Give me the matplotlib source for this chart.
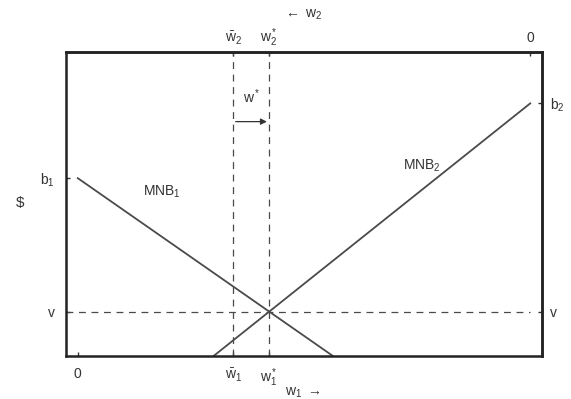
import matplotlib
matplotlib.use('Agg')
import matplotlib.pyplot as plt
import matplotlib.transforms as mtransforms

# Horizontal axis: w1 runs from 0 (left) to W_TOTAL (right), w2 the other way
W_TOTAL = 10.0
w_bar = 3.44
w_star = 4.23

# Vertical axis ($)
v_level = 1.45
b1 = 5.84
b2 = 8.30

# Marginal net benefit curves (endpoints)
mnb1_w = [0.0, 5.63]
mnb1_y = [b1, 0.0]
mnb2_w = [3.01, W_TOTAL]
mnb2_y = [0.0, b2]

# Top axis labels (w2, measured from the right)
top_ticks = [w_bar, w_star, W_TOTAL]
top_labels = [r'$\mathregular{\bar{w}_2}$', r'$\mathregular{w_2^*}$', '0']

plt.rcParams['font.family'] = ['Liberation Sans', 'DejaVu Sans']
plt.rcParams['mathtext.fontset'] = 'custom'
plt.rcParams['mathtext.rm'] = 'Liberation Sans'
plt.rcParams['mathtext.it'] = 'Liberation Sans'

line_col = '#4a4a4a'
text_col = '#333333'

fig = plt.figure(figsize=(5.71, 3.99), dpi=100)
ax = fig.add_axes([66 / 571, 1 - 355.7 / 399, 476 / 571, 304 / 399])
ax.set_xlim(-0.26, 10.26)
ax.set_ylim(0, 10)

# Curves
ax.plot(mnb1_w, mnb1_y, color=line_col, lw=1.3)
ax.plot(mnb2_w, mnb2_y, color=line_col, lw=1.3)

# Dashed guides
dash = (0, (5.5, 4.5))
ax.axvline(w_bar, color=line_col, lw=0.9, linestyle=dash)
ax.axvline(w_star, color=line_col, lw=0.9, linestyle=dash)
ax.plot([-0.26, W_TOTAL], [v_level, v_level], color=line_col, lw=0.9, linestyle=dash)

# Curve labels
ax.text(1.85, 5.4, r'MNB$_1$', fontsize=10, color=text_col, ha='center', va='center')
ax.text(7.6, 6.25, r'MNB$_2$', fontsize=10, color=text_col, ha='center', va='center')

# w* arrow
ax.annotate('', xy=(w_star - 0.05, 7.7), xytext=(w_bar + 0.05, 7.7),
            arrowprops=dict(arrowstyle='-|>', color=text_col, lw=0.9,
                            mutation_scale=9, shrinkA=0, shrinkB=0))
ax.text((w_bar + w_star) / 2, 8.2, r'w$^*$', fontsize=10, color=text_col,
        ha='center', va='bottom')

# Bottom ticks (w1)
ax.set_xticks([0, w_bar, w_star])
ax.set_xticklabels(['0', r'$\mathregular{\bar{w}_1}$', r'$\mathregular{w_1^*}$'])
# Left ticks ($)
ax.set_yticks([v_level, b1])
ax.set_yticklabels(['v', r'b$_1$'])

# Top ticks (w2, reversed)
top = ax.secondary_xaxis('top')
top.set_xticks(top_ticks)
top.set_xticklabels([])
top.tick_params(direction='in', length=3, width=1, colors=text_col)
trans = mtransforms.blended_transform_factory(ax.transData, ax.transAxes)
for xt, lab in zip(top_ticks, top_labels):
    ax.text(xt, 1.045, lab, transform=trans, fontsize=10, color=text_col,
            ha='center', va='center')

# Right ticks
right = ax.secondary_yaxis('right')
right.set_yticks([v_level, b2])
right.set_yticklabels(['v', r'b$_2$'])
right.tick_params(direction='in', length=3, width=1, colors=text_col, labelsize=10, pad=6)

ax.tick_params(direction='in', length=3, width=1, colors=text_col, labelsize=10, pad=8)
ax.tick_params(axis='y', pad=8)

for a in (ax, top, right):
    for s in a.spines.values():
        s.set_linewidth(1.8)
        s.set_color('#222222')

# Axis titles
fig.text(303 / 571, 1 - 15 / 399, r'$\leftarrow$ w$_2$', fontsize=10, color=text_col,
         ha='center', va='center')
fig.text(303 / 571, 1 - 393 / 399, r'w$_1$ $\rightarrow$', fontsize=10, color=text_col,
         ha='center', va='center')
fig.text(20 / 571, 1 - 203 / 399, '$', fontsize=11, color=text_col,
         ha='center', va='center')

fig.savefig('out.png', dpi=100)
